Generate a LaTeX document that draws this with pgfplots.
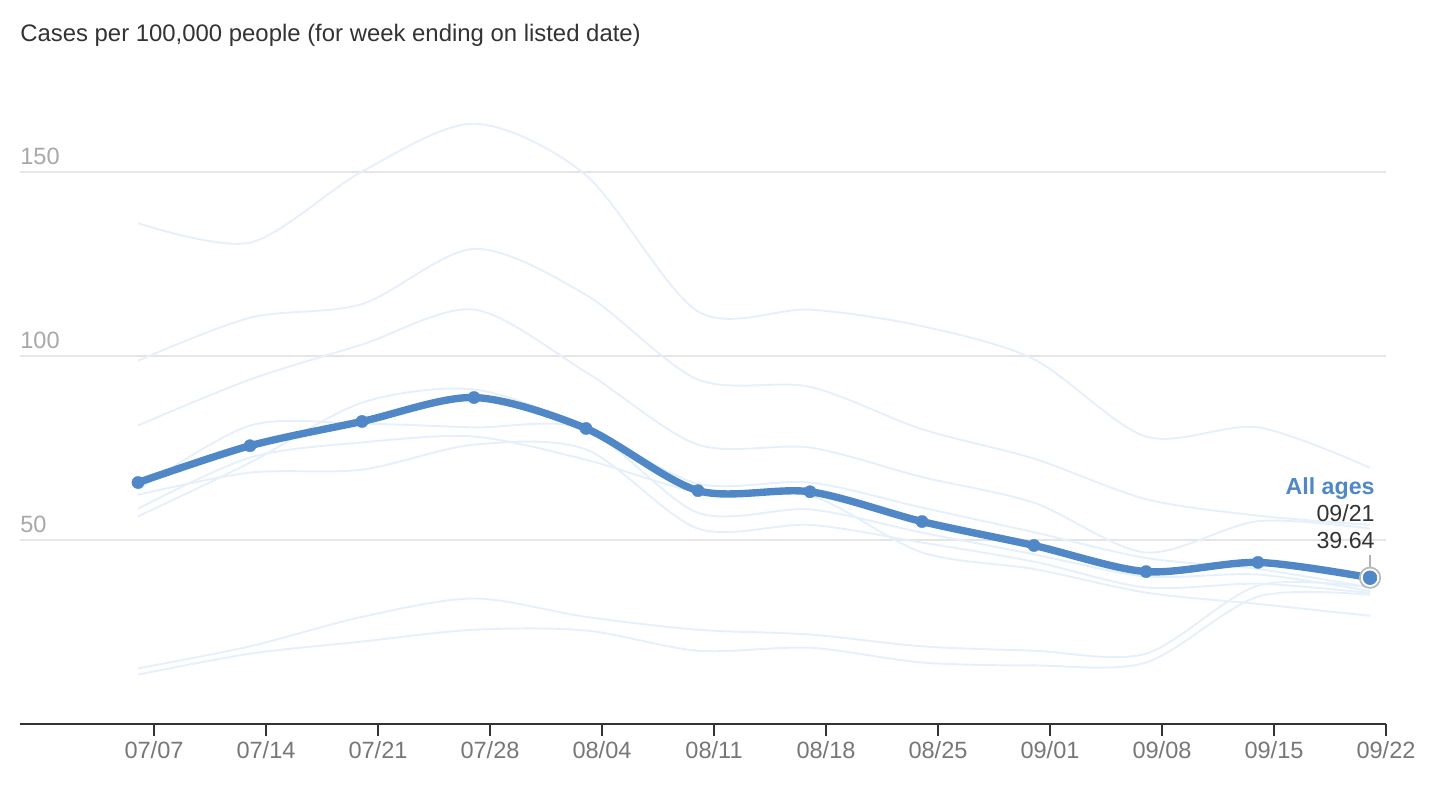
\documentclass[border=0pt]{standalone}
\usepackage{pgfplots}
\pgfplotsset{compat=1.18}
\usepackage{fontspec}
\setmainfont{Liberation Sans}
\definecolor{mainblue}{HTML}{4F87C7}
\definecolor{faint}{HTML}{E6F0FB}
\definecolor{gridgrey}{HTML}{E5E5E5}
\definecolor{ticklab}{HTML}{777777}
\definecolor{ylab}{HTML}{A8A8A8}
\definecolor{axisdark}{HTML}{333333}
\begin{document}
\begin{tikzpicture}
\begin{axis}[
    name=ax,
    scale only axis,
    width=27.32cm, height=12.512cm,
    xmin=-8.375, xmax=77, ymin=0, ymax=170,
    axis x line*=bottom, axis y line*=left,
    y axis line style={draw=none},
    x axis line style={draw=axisdark, line width=1.1pt},
    xtick={0,7,...,77},
    xticklabels={07/07,07/14,07/21,07/28,08/04,08/11,08/18,08/25,09/01,09/08,09/15,09/22},
    x tick style={draw=axisdark, line width=1.1pt},
    tick align=outside,
    major tick length=0.24cm,
    ytick={50,100,150},
    y tick style={draw=none},
    ymajorgrids, grid style={gridgrey, line width=1.1pt},
    tick label style={font=\fontsize{13.4}{16}\selectfont},
    xticklabel style={text=ticklab},
    yticklabel style={text=ylab, anchor=base west, inner sep=0pt, xshift=0.24cm, yshift=0.14cm},
    /pgf/number format/assume math mode=true,
    clip=false,
]
% age groups, faint
\addplot[faint, line width=1.1pt, smooth, no markers] coordinates {
(-1,136)(6,130.7)(13,150)(20,163)(27,149)(34,112)(41,112.5)(48,108)(55,99)(62,78)(69,80.5)(76,69.5)};
\addplot[faint, line width=1.1pt, smooth, no markers] coordinates {
(-1,98.6)(6,110.3)(13,114)(20,129)(27,116.5)(34,93.5)(41,91.5)(48,80)(55,72)(62,61)(69,56.5)(76,54)};
\addplot[faint, line width=1.1pt, smooth, no markers] coordinates {
(-1,81)(6,93.5)(13,103)(20,112.5)(27,95.5)(34,75.8)(41,75)(48,67)(55,60)(62,46.5)(69,55)(76,53)};
\addplot[faint, line width=1.1pt, smooth, no markers] coordinates {
(-1,56.3)(6,70.9)(13,87.2)(20,90.8)(27,80.5)(34,65.2)(41,65.5)(48,58.7)(55,52)(62,45)(69,42)(76,37)};
\addplot[faint, line width=1.1pt, smooth, no markers] coordinates {
(-1,63.5)(6,81)(13,81.5)(20,80.5)(27,80)(34,57.3)(41,58.2)(48,51.9)(55,46)(62,40)(69,40.5)(76,36)};
\addplot[faint, line width=1.1pt, smooth, no markers] coordinates {
(-1,62.2)(6,68.2)(13,69)(20,75.8)(27,74.5)(34,53)(41,54)(48,49.2)(55,44)(62,37)(69,38)(76,35.5)};
\addplot[faint, line width=1.1pt, smooth, no markers] coordinates {
(-1,58.4)(6,72.3)(13,76.4)(20,78)(27,71.7)(34,63)(41,62)(48,46.5)(55,42)(62,35.6)(69,32.5)(76,29.3)};
\addplot[faint, line width=1.1pt, smooth, no markers] coordinates {
(-1,15)(6,21)(13,29)(20,34)(27,29)(34,25.5)(41,24.2)(48,21)(55,19.8)(62,19)(69,37.5)(76,37)};
\addplot[faint, line width=1.1pt, smooth, no markers] coordinates {
(-1,13.3)(6,19)(13,22.3)(20,25.5)(27,25.3)(34,19.8)(41,20.6)(48,16.6)(55,15.8)(62,16.6)(69,34.5)(76,35)};

% all ages
\addplot[mainblue, line width=4.2pt, smooth, mark=*, mark size=3.5pt,
    mark options={solid, draw=mainblue, line width=0.2pt, fill=mainblue}] coordinates {
(-1,65.5)(6,75.5)(13,82.1)(20,88.6)(27,80.2)(34,63.3)(41,63.0)(48,54.9)(55,48.4)(62,41.3)(69,43.8)(76,39.64)};

% highlighted last point
\addplot[only marks, mark=*, mark size=5.8pt,
    mark options={draw=gray!55, line width=1pt, fill=white}] coordinates {(76,39.64)};
\addplot[only marks, mark=*, mark size=3.9pt,
    mark options={draw=mainblue, fill=mainblue}] coordinates {(76,39.64)};
\draw[gray!60, line width=0.9pt] (axis cs:76,45.8) -- (axis cs:76,42.2);

\node[anchor=base east, inner sep=0pt, text=mainblue,
    font=\bfseries\fontsize{13.2}{16}\selectfont] at (axis cs:76.31,62.2) {All ages};
\node[anchor=base east, inner sep=0pt, text=axisdark,
    font=\fontsize{13.2}{16}\selectfont] at (axis cs:76.31,54.9) {09/21};
\node[anchor=base east, inner sep=0pt, text=axisdark,
    font=\fontsize{13.2}{16}\selectfont] at (axis cs:76.31,47.55) {39.64};

\node[anchor=base west, inner sep=0pt, text=axisdark, yshift=1.12cm,
    font=\fontsize{13.6}{16}\selectfont] at (rel axis cs:0,1)
    {Cases per 100,000 people (for week ending on listed date)};
\end{axis}
\path ([shift={(-0.4cm,-1.6cm)}]ax.south west) rectangle ([shift={(0.96cm,1.96cm)}]ax.north east);
\end{tikzpicture}
\end{document}
